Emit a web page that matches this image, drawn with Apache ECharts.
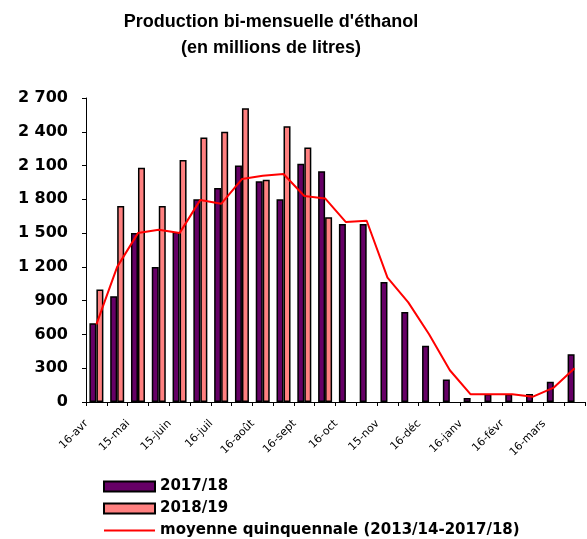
<!DOCTYPE html>
<html>
<head>
<meta charset="utf-8">
<script src="https://cdn.jsdelivr.net/npm/echarts@6/dist/echarts.min.js"></script>
<style>
html,body{margin:0;padding:0;background:#fff;}
#main{width:587px;height:539px;}
</style>
</head>
<body>
<div id="main"></div>
<script>
// quinzaines de la campagne avril -> mars
var categories = ['16-avr','1-mai','15-mai','1-juin','15-juin','1-juil','16-juil','1-août',
    '16-août','1-sept','16-sept','1-oct','16-oct','1-nov','15-nov','1-déc',
    '16-déc','1-janv','16-janv','1-févr','16-févr','1-mars','16-mars','1-avr'];
var prod1718 = [700, 940, 1500, 1200, 1510, 1800, 1900, 2100, 1960, 1800, 2115, 2050,
    1580, 1580, 1065, 800, 500, 200, 35, 70, 70, 70, 180, 425];
var prod1819 = [1000, 1740, 2080, 1740, 2150, 2350, 2400, 2610, 1975, 2450, 2260, 1640,
    null, null, null, null, null, null, null, null, null, null, null, null];
var moyenne5 = [690, 1200, 1500, 1530, 1500, 1795, 1760, 1980, 2010, 2025, 1830, 1808,
    1598, 1610, 1105, 885, 602, 282, 68, 68, 68, 47, 128, 300];
var yMax = 2700;
var yStep = 300;

var myChart = echarts.init(document.getElementById('main'));

function espaceMilliers(v) {
    if (v < 1000) return '' + v;
    var r = '' + (v % 1000);
    while (r.length < 3) r = '0' + r;
    return Math.floor(v / 1000) + ' ' + r;
}

var option = {
    animation: false,
    title: {
        text: "Production bi-mensuelle d'éthanol\n(en millions de litres)",
        left: 266,
        top: 4,
        textAlign: 'center',
        textStyle: {
            fontFamily: 'Liberation Sans',
            fontSize: 18,
            fontWeight: 'bold',
            color: '#000',
            lineHeight: 26
        }
    },
    legend: {
        orient: 'vertical',
        left: 98,
        top: 474,
        height: 80,
        itemWidth: 51,
        itemHeight: 10,
        itemGap: 7,
        textStyle: {
            fontFamily: 'DejaVu Sans',
            fontWeight: 'bold',
            fontSize: 15,
            color: '#000'
        },
        data: [
            {name: '2017/18', icon: 'rect'},
            {name: '2018/19', icon: 'rect'},
            {name: 'moyenne quinquennale (2013/14-2017/18)', itemStyle: {opacity: 0}}
        ]
    },
    grid: {
        left: 86,
        right: 2,
        top: 98,
        bottom: 137,
        outerBoundsMode: 'none'
    },
    xAxis: {
        type: 'category',
        data: categories,
        axisLine: {lineStyle: {color: '#000', width: 1}},
        axisTick: {show: true, interval: 0, length: 4, lineStyle: {color: '#000'}},
        axisLabel: {
            interval: 1,
            rotate: 45,
            margin: 10,
            padding: [0, 14, 0, 0],
            fontFamily: 'DejaVu Sans',
            fontSize: 11,
            color: '#000'
        }
    },
    yAxis: {
        type: 'value',
        min: 0,
        max: yMax,
        interval: yStep,
        splitLine: {show: false},
        axisLine: {show: true, lineStyle: {color: '#000', width: 1}},
        axisTick: {show: true, length: 4, lineStyle: {color: '#000'}},
        axisLabel: {
            margin: 18,
            fontFamily: 'DejaVu Sans',
            fontWeight: 'bold',
            fontSize: 16,
            color: '#000',
            formatter: espaceMilliers
        }
    },
    series: [
        {
            name: '2017/18',
            type: 'bar',
            data: prod1718,
            barWidth: 7,
            barGap: '0%',
            itemStyle: {color: '#660066', borderColor: '#000', borderWidth: 1.5}
        },
        {
            name: '2018/19',
            type: 'bar',
            data: prod1819,
            barWidth: 7,
            barGap: '0%',
            itemStyle: {color: '#ff8080', borderColor: '#000', borderWidth: 1.5}
        },
        {
            name: 'moyenne quinquennale (2013/14-2017/18)',
            type: 'line',
            data: moyenne5,
            symbol: 'none',
            lineStyle: {color: '#ff0000', width: 2},
            itemStyle: {color: '#ff0000'}
        }
    ]
};
myChart.setOption(option);
</script>
</body>
</html>
